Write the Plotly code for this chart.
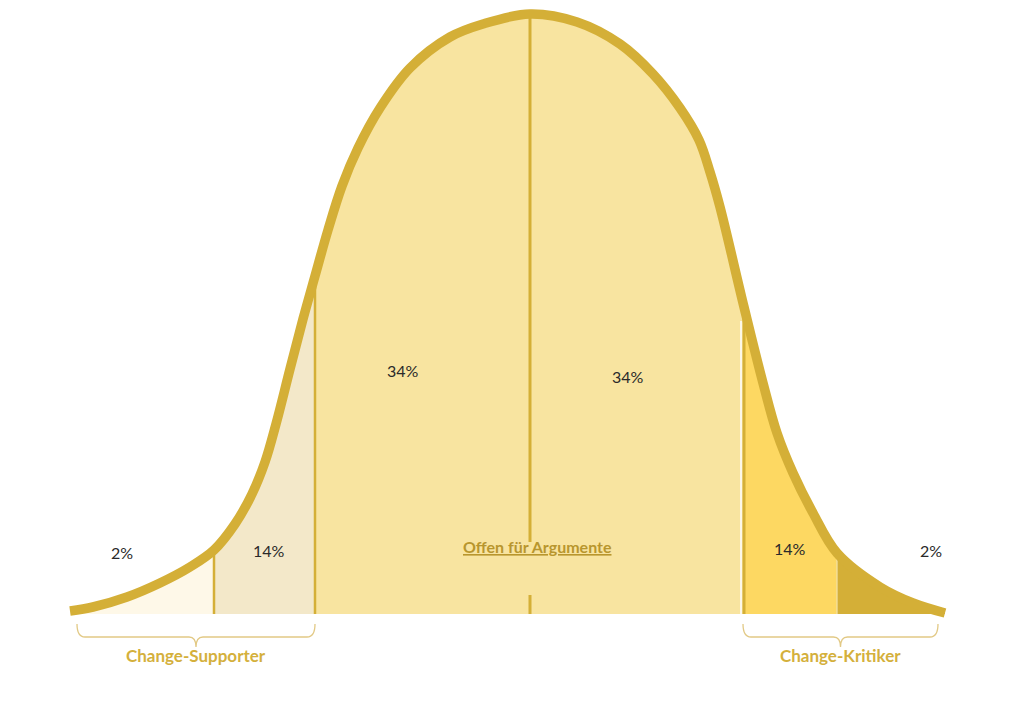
import plotly.graph_objects as go

# Bell curve outline (x position, height above baseline)
curve_x = [70, 93, 127, 160, 190, 214, 235, 252, 265, 276, 290, 303, 315, 328,
           342, 358, 380, 410, 450, 483, 530, 577, 620, 653, 680, 699, 710,
           720, 744, 763, 777, 793, 813, 837, 880, 913, 945]
curve_y = [3, 7, 17, 31, 47, 64, 90, 120, 152, 190, 245, 295, 338, 384,
           428, 466, 506, 546, 577, 590, 600, 592, 570, 540, 506, 474, 442,
           407, 307, 231, 181, 141, 101, 61, 27, 11, 1]

# Segment boundaries, fill colours and percentage labels
bounds = [70, 214, 315, 744, 837, 945]
seg_colors = ["#FEF8E8", "#F3E8C9", "#F8E4A0", "#FDD862", "#D4AF37"]
pct_labels = ["2%", "14%", "34%", "34%", "14%", "2%"]
pct_x = [122, 269, 403, 628, 790, 931]
pct_y = [62, 64, 244, 238, 66, 64]

center_x = 530
center_label = "Offen für Argumente"
center_label_pos = (537, 68)

groups = ["Change-Supporter", "Change-Kritiker"]
group_spans = [(77, 315), (743, 938)]

GOLD = "#D4AF37"
FONT = "Lato, Noto Sans, sans-serif"

fig = go.Figure()

def seg_points(a, b):
    xs, ys = [], []
    for x, y in zip(curve_x, curve_y):
        if a <= x <= b:
            xs.append(x)
            ys.append(y)
    return xs, ys

for i in range(len(seg_colors)):
    xs, ys = seg_points(bounds[i], bounds[i + 1])
    fig.add_trace(go.Scatter(x=xs, y=ys, mode="lines", fill="tozeroy",
                             fillcolor=seg_colors[i],
                             line=dict(width=0, shape="spline", smoothing=1, color=seg_colors[i]),
                             hoverinfo="skip", showlegend=False))

def height_at(xb):
    return curve_y[curve_x.index(xb)]

# separators
for xb, col, w in [(214, GOLD, 2.5), (315, GOLD, 2.5), (744, GOLD, 3), (837, "#F2E2A8", 1.2)]:
    fig.add_trace(go.Scatter(x=[xb, xb], y=[0, height_at(xb)], mode="lines",
                             line=dict(color=col, width=w), hoverinfo="skip", showlegend=False))
fig.add_trace(go.Scatter(x=[741, 741], y=[0, height_at(744) - 14], mode="lines",
                         line=dict(color="#FFFFFF", width=1.5), hoverinfo="skip", showlegend=False))

# center line (interrupted by label)
top_c = height_at(center_x)
fig.add_trace(go.Scatter(x=[center_x, center_x, None, center_x, center_x],
                         y=[0, 19, None, 72, top_c], mode="lines",
                         line=dict(color=GOLD, width=3), hoverinfo="skip", showlegend=False))

# outline
fig.add_trace(go.Scatter(x=curve_x, y=curve_y, mode="lines",
                         line=dict(color=GOLD, width=9.5, shape="spline", smoothing=1),
                         hoverinfo="skip", showlegend=False))

# percentage labels
for t, x, y in zip(pct_labels, pct_x, pct_y):
    fig.add_annotation(x=x, y=y, text=t, showarrow=False,
                       font=dict(family=FONT, size=16, color="#2A2A2A"))

fig.add_annotation(x=center_label_pos[0], y=center_label_pos[1],
                   text="<b><u>" + center_label + "</u></b>", showarrow=False,
                   font=dict(family=FONT, size=16, color="#B8962E"))

# braces and group labels
for name, (x0, x1) in zip(groups, group_spans):
    xm = (x0 + x1) / 2
    path = (f"M {x0},-10 Q {x0},-23 {x0+8},-23 L {xm-7},-23 Q {xm},-23 {xm},-33 "
            f"Q {xm},-23 {xm+7},-23 L {x1-8},-23 Q {x1},-23 {x1},-10")
    fig.add_shape(type="path", path=path, xref="x", yref="y",
                  line=dict(color="#E2C985", width=1.3))
    fig.add_annotation(x=xm, y=-41, text="<b>" + name + "</b>", showarrow=False,
                       font=dict(family=FONT, size=17, color="#D4B03C"))

fig.update_layout(
    width=1024, height=725,
    margin=dict(l=0, r=0, t=0, b=0),
    paper_bgcolor="white", plot_bgcolor="white",
    xaxis=dict(range=[8, 1032], visible=False, fixedrange=True),
    yaxis=dict(range=[-119, 606], visible=False, fixedrange=True),
)

fig.write_html("out.html")
